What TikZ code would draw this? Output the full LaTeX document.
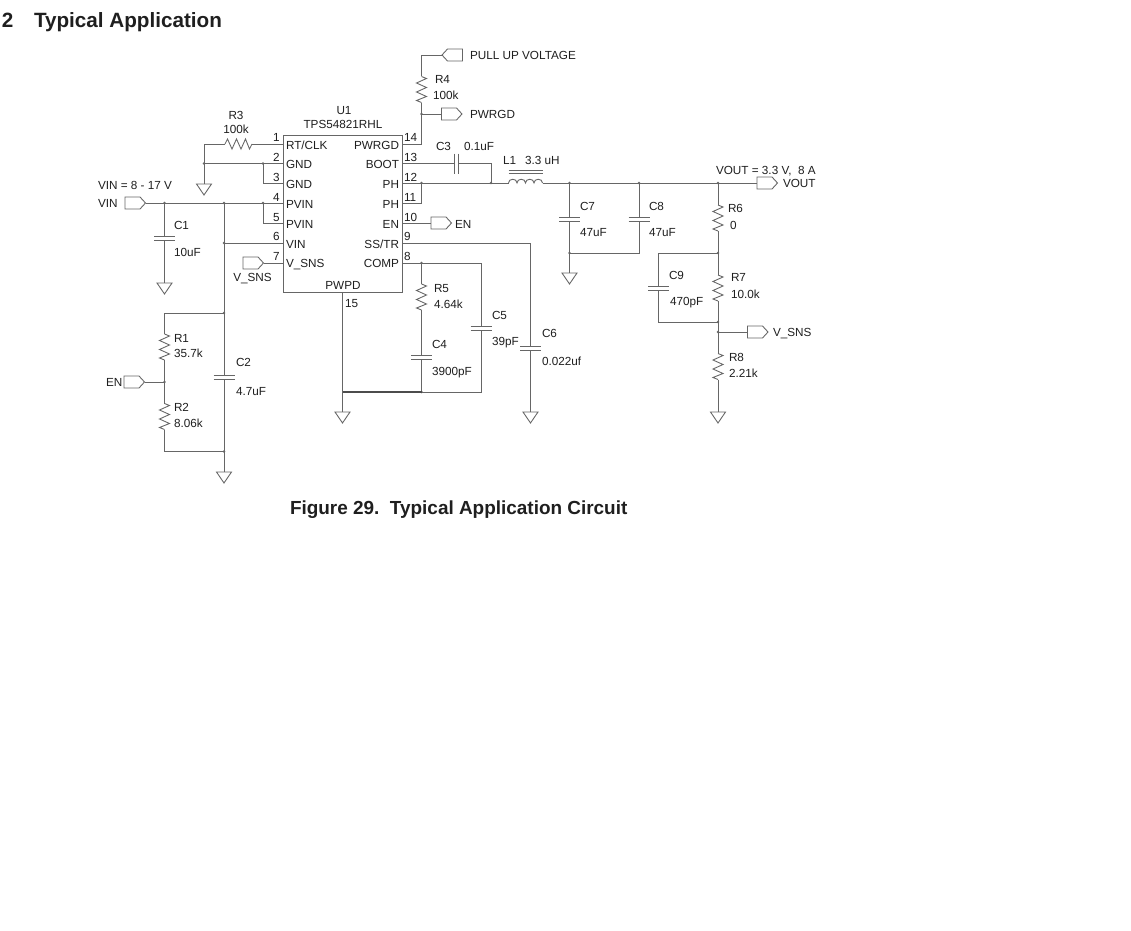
\documentclass[tikz,border=0pt]{standalone}
\usepackage{fontspec}
\setmainfont{Liberation Sans}
\definecolor{wirec}{gray}{0.4}
\definecolor{textc}{gray}{0.12}
\tikzset{
  wire/.style={draw=wirec,line width=0.66pt},
  busw/.style={draw=wirec!75!black,line width=0.95pt},
  txt/.style={inner sep=0,outer sep=0,text=textc,text height=6.2pt,text depth=0pt,font=\fontsize{8.8}{10}\selectfont},
  tl/.style={txt,anchor=west},
  tr/.style={txt,anchor=east},
  tc/.style={txt,anchor=center},
  head/.style={inner sep=0,outer sep=0,anchor=base west,text=textc,font=\bfseries\fontsize{15.5}{18}\selectfont},
  figcap/.style={inner sep=0,outer sep=0,anchor=base west,text=textc,font=\bfseries\fontsize{14.2}{17}\selectfont},
  vres/.pic={
    \draw[wire,line join=miter] (0,-13)--(5,-11)--(-5,-6.5)--(5,-2)--(-5,2.5)--(5,7)--(-5,11)--(0,13);
    \coordinate (-t) at (0,-13); \coordinate (-b) at (0,13);},
  hres/.pic={
    \draw[wire] (-13.5,0)--(-11,-5)--(-6.5,5)--(-2,-5)--(2.5,5)--(7,-5)--(11,5)--(13.5,0);
    \coordinate (-l) at (-13.5,0); \coordinate (-r) at (13.5,0);},
  vcapa/.pic={
    \draw[wire] (-10.5,-2)--(10.5,-2) (-10.5,2)--(10.5,2);
    \coordinate (-t) at (0,-2); \coordinate (-b) at (0,2);},
  hcapa/.pic={
    \draw[wire] (-2,-10)--(-2,10) (2,-10)--(2,10);
    \coordinate (-l) at (-2,0); \coordinate (-r) at (2,0);},
  gnda/.pic={
    \draw[wire,line join=miter] (-7.5,0)--(7.5,0)--(0,11)--cycle;
    \coordinate (-t) at (0,0);},
  portr/.pic={
    \draw[wire,line join=miter] (0,-6)--(15,-6)--(20.5,0)--(15,6)--(0,6)--cycle;
    \coordinate (-l) at (0,0); \coordinate (-r) at (20.5,0);},
  portl/.pic={
    \draw[wire,line join=miter] (20.5,-6)--(5.5,-6)--(0,0)--(5.5,6)--(20.5,6)--cycle;
    \coordinate (-l) at (0,0); \coordinate (-r) at (20.5,0);},
  coil/.pic={
    \draw[wire] (0,0) .. controls (0,-5) and (8.5,-5) .. (8.5,0)
      .. controls (8.5,-5) and (17,-5) .. (17,0)
      .. controls (17,-5) and (25.5,-5) .. (25.5,0)
      .. controls (25.5,-5) and (34,-5) .. (34,0);
    \draw[wire] (0,-13)--(34,-13) (0,-10)--(34,-10);
    \coordinate (-l) at (0,0); \coordinate (-r) at (34,0);}
}
\newcommand{\jn}[3]{\coordinate (#1) at (#2,#3); \fill[wirec] (#1) circle (1.35);}
\newcommand{\pt}[3]{\coordinate (#1) at (#2,#3);}
\begin{document}
\begin{tikzpicture}[x=0.75pt,y=-0.75pt]
\useasboundingbox (0,0) rectangle (1131,931);
\fill[white] (0,0) rectangle (1131,931);
% IC
\node[draw=wirec,line width=0.66pt,minimum width=89.25pt,minimum height=117.75pt,inner sep=0,outer sep=0] (U1) at (342.5,213.5) {};
\pt{p1}{283}{144}\pt{p2}{283}{163.5}\pt{p3}{283}{183}\pt{p4}{283}{203}\pt{p5}{283}{223}\pt{p6}{283}{243}\pt{p7}{283}{263}
\pt{p14}{402}{144}\pt{p13}{402}{163.5}\pt{p12}{402}{183}\pt{p11}{402}{203}\pt{p10}{402}{223}\pt{p9}{402}{243}\pt{p8}{402}{263}
\pt{p15}{342.5}{292}
% components
\pic (R3) at (238.5,144) {hres};
\pic (R4) at (421.5,89.5) {vres};
\pic (R1) at (164.5,347) {vres};
\pic (R2) at (164.5,416.5) {vres};
\pic (R5) at (421.5,297) {vres};
\pic (R6) at (718,218) {vres};
\pic (R7) at (718,288) {vres};
\pic (R8) at (718,366.5) {vres};
\pic (C1) at (164.5,238) {vcapa};
\pic (C2) at (224,377) {vcapa};
\pic (C4) at (421.5,357) {vcapa};
\pic (C5) at (481,328) {vcapa};
\pic (C6) at (530.5,348) {vcapa};
\pic (C7) at (569.5,219) {vcapa};
\pic (C8) at (639,219) {vcapa};
\pic (C9) at (658.5,288) {vcapa};
\pic (C3) at (456,163.5) {hcapa};
\pic (L1) at (508.5,183) {coil};
\pic (G1) at (164.5,283) {gnda};
\pic (G2) at (204,184) {gnda};
\pic (G3) at (224,472) {gnda};
\pic (G4) at (342.5,412) {gnda};
\pic (G5) at (530.5,412) {gnda};
\pic (G6) at (569.5,273) {gnda};
\pic (G7) at (718,412) {gnda};
\pic (PVin) at (125,203) {portr};
\pic (PEnL) at (124,382) {portr};
\pic (PSns) at (243,263) {portr};
\pic (PPull) at (442,55) {portl};
\pic (PGood) at (441.5,114) {portr};
\pic (PEnR) at (431,223) {portr};
\pic (POut) at (757,183) {portr};
\pic (PSnsR) at (747.5,332) {portr};
% junctions
\jn{a1}{204}{163.5}\jn{a2}{263}{163.5}\jn{a3}{164.5}{203}\jn{a4}{224}{203}\jn{a5}{263}{203}
\jn{a6}{224}{243}\jn{a7}{224}{313}\jn{a8}{224}{451.5}\jn{a9}{164.5}{382}
\jn{b1}{421.5}{114}\jn{b2}{421.5}{183}\jn{b3}{491}{183}\jn{b4}{569.5}{183}\jn{b5}{639}{183}\jn{b6}{718}{183}
\jn{b7}{569.5}{253}\jn{b8}{718}{253}\jn{b9}{718}{322}\jn{b10}{718}{332}
\jn{c1}{421.5}{263}\jn{c2}{421.5}{392}
\pt{c3}{342.5}{392}\pt{c4}{481}{392}\pt{c5}{481}{263}\pt{c6}{530.5}{243}\pt{d1}{204}{144}\pt{d2}{263}{183}\pt{d3}{263}{223}
\pt{d4}{164.5}{313}\pt{d5}{164.5}{451.5}\pt{d6}{421.5}{144}\pt{d7}{421.5}{55}\pt{d8}{421.5}{203}\pt{d9}{491}{163.5}
\pt{d10}{639}{253}\pt{d11}{658.5}{253}\pt{d12}{658.5}{322}
% wires
\draw[wire] (R3-r)--(p1) (R3-l)--(d1)--(G2-t);
\draw[wire] (a1)--(p2) (a2)--(d2)--(p3);
\draw[wire] (PVin-r)--(p4) (a5)--(d3)--(p5) (a6)--(p6) (a4)--(C2-t) (C2-b)--(G3-t);
\draw[wire] (a3)--(C1-t) (C1-b)--(G1-t);
\draw[wire] (a7)--(d4)--(R1-t) (R1-b)--(R2-t) (R2-b)--(d5)--(a8) (PEnL-r)--(a9);
\draw[wire] (PSns-r)--(p7);
\draw[wire] (p14)--(d6)--(R4-b) (R4-t)--(d7)--(PPull-l) (b1)--(PGood-l);
\draw[wire] (p13)--(C3-l) (C3-r)--(d9)--(b3);
\draw[wire] (p12)--(L1-l) (L1-r)--(POut-l) (b2)--(d8)--(p11);
\draw[wire] (p10)--(PEnR-l);
\draw[wire] (p9)--(c6)--(C6-t) (C6-b)--(G5-t);
\draw[wire] (p8)--(c5)--(C5-t) (C5-b)--(c4)--(c2);
\draw[wire] (c1)--(R5-t) (R5-b)--(C4-t) (C4-b)--(c2);
\draw[busw] (c3)--(c2);
\draw[wire] (p15)--(G4-t);
\draw[wire] (b4)--(C7-t) (C7-b)--(G6-t) (b5)--(C8-t) (C8-b)--(d10)--(b7);
\draw[wire] (b6)--(R6-t) (R6-b)--(R7-t) (R7-b)--(R8-t) (R8-b)--(G7-t);
\draw[wire] (b8)--(d11)--(C9-t) (C9-b)--(d12)--(b9) (b10)--(PSnsR-l);
% headings
\node[head] (h1) at (2,28) {2};
\node[head] (h2) at (34,28) {Typical Application};
\node[figcap] (h3) at (290,514) {Figure 29.\ \ Typical Application Circuit};
% IC texts
\node[tc] (tU1) at (344,110) {U1};
\node[tc] (tU2) at (343,124.5) {TPS54821RHL};
\node[tc] (tR3) at (236,115) {R3};
\node[tc] (tR3v) at (236,129) {100k};
\node[tc] (n1) at (276.5,137) {1};
\node[tc] (n2) at (276.5,157) {2};
\node[tc] (n3) at (276.5,177) {3};
\node[tc] (n4) at (276.5,197) {4};
\node[tc] (n5) at (276.5,217) {5};
\node[tc] (n6) at (276.5,236) {6};
\node[tc] (n7) at (276.5,256) {7};
\node[tl] (n14) at (404,137) {14};
\node[tl] (n13) at (404,157) {13};
\node[tl] (n12) at (404,177) {12};
\node[tl] (n11) at (404,197) {11};
\node[tl] (n10) at (404,217) {10};
\node[tl] (n9) at (404,236) {9};
\node[tl] (n8) at (404,256) {8};
\node[tl] (l1) at (286,145) {RT/CLK};
\node[tl] (l2) at (286,164) {GND};
\node[tl] (l3) at (286,184) {GND};
\node[tl] (l4) at (286,204) {PVIN};
\node[tl] (l5) at (286,224) {PVIN};
\node[tl] (l6) at (286,244) {VIN};
\node[tl] (l7) at (286,263) {V\_SNS};
\node[tr] (l14) at (399,145) {PWRGD};
\node[tr] (l13) at (399,164) {BOOT};
\node[tr] (l12) at (399,184) {PH};
\node[tr] (l11) at (399,204) {PH};
\node[tr] (l10) at (399,224) {EN};
\node[tr] (l9) at (399,244) {SS/TR};
\node[tr] (l8) at (399,263) {COMP};
\node[tc] (l15) at (343,285) {PWPD};
\node[tl] (n15) at (345,303) {15};
% left
\node[tc] (tSns) at (252.5,277) {V\_SNS};
\node[tl] (tVinE) at (98,185) {VIN = 8 - 17 V};
\node[tl] (tVin) at (98,203.5) {VIN};
\node[tl] (tC1) at (174,225) {C1};
\node[tl] (tC1v) at (174,252) {10uF};
\node[tl] (tR1) at (174,338) {R1};
\node[tl] (tR1v) at (174,353) {35.7k};
\node[tl] (tR2) at (174,407) {R2};
\node[tl] (tR2v) at (174,423) {8.06k};
\node[tl] (tEnL) at (106,382) {EN};
\node[tl] (tC2) at (236,362) {C2};
\node[tl] (tC2v) at (236,391) {4.7uF};
% middle
\node[tl] (tR5) at (434,288) {R5};
\node[tl] (tR5v) at (434,304) {4.64k};
\node[tl] (tC4) at (432,344) {C4};
\node[tl] (tC4v) at (432,371) {3900pF};
\node[tl] (tC5) at (492,315) {C5};
\node[tl] (tC5v) at (492,341) {39pF};
\node[tl] (tC6) at (542,333) {C6};
\node[tl] (tC6v) at (542,361) {0.022uf};
\node[tl] (tR4) at (435,79) {R4};
\node[tl] (tR4v) at (433,95) {100k};
\node[tl] (tPull) at (470,55) {PULL UP VOLTAGE};
\node[tl] (tGood) at (470,114) {PWRGD};
\node[tl] (tC3) at (436,146) {C3};
\node[tl] (tC3v) at (464,146) {0.1uF};
\node[tl] (tL1) at (503,160) {L1};
\node[tl] (tL1v) at (525,160) {3.3 uH};
\node[tl] (tOutE) at (716,170) {VOUT = 3.3 V,\ \ 8 A};
\node[tl] (tOut) at (783,183) {VOUT};
\node[tl] (tEnR) at (455,224) {EN};
\node[tl] (tC7) at (580,206) {C7};
\node[tl] (tC7v) at (580,232) {47uF};
\node[tl] (tC8) at (649,206) {C8};
\node[tl] (tC8v) at (649,232) {47uF};
\node[tl] (tR6) at (728,208) {R6};
\node[tl] (tR6v) at (730,225) {0};
\node[tl] (tC9) at (669,275) {C9};
\node[tl] (tC9v) at (670,301) {470pF};
\node[tl] (tR7) at (731,277) {R7};
\node[tl] (tR7v) at (731,294) {10.0k};
\node[tl] (tSnsR) at (773,332) {V\_SNS};
\node[tl] (tR8) at (729,357) {R8};
\node[tl] (tR8v) at (729,373) {2.21k};
\end{tikzpicture}
\end{document}
